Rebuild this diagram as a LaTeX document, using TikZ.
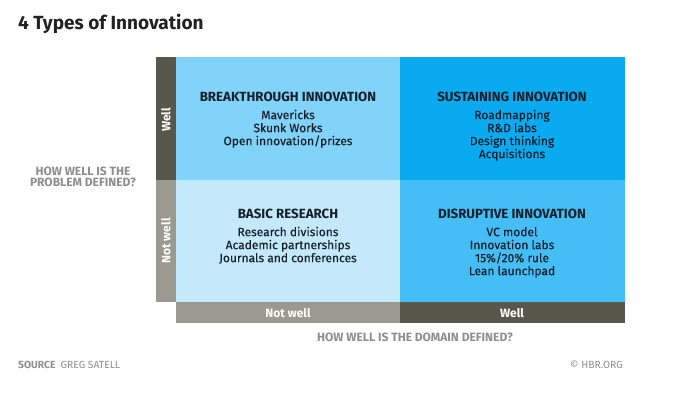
\documentclass[tikz,border=0pt]{standalone}
\usepackage{fontspec}
\setmainfont{Fira Sans}
\newfontfamily\itemfont{Fira Sans}[FakeBold=0.35]
\definecolor{qTL}{HTML}{82D3F9}
\definecolor{qTR}{HTML}{0AAAF0}
\definecolor{qBL}{HTML}{C4E9FB}
\definecolor{qBR}{HTML}{45BDF5}
\definecolor{barDark}{HTML}{58574B}
\definecolor{barGrey}{HTML}{9A9A90}
\definecolor{axisText}{HTML}{8E8E8E}
\definecolor{qText}{HTML}{16202C}
\definecolor{titleText}{HTML}{222222}
\newcommand{\qheadfont}{\normalfont\bfseries\fontsize{13.3}{13}\selectfont}
\begin{document}
\begin{tikzpicture}[x=1pt,y=-1pt,
  qtext/.style={align=center,anchor=north,text=qText,font=\itemfont\fontsize{12}{13}\selectfont,inner sep=0pt},
  barlabel/.style={text=white,font=\bfseries\fontsize{12}{13}\selectfont,inner sep=0pt},
  axislabel/.style={text=axisText,font=\bfseries\fontsize{12}{11.5}\selectfont,align=center,inner sep=0pt},
  foot/.style={text=axisText,font=\fontsize{10.3}{11}\selectfont,inner sep=0pt}]
\useasboundingbox (0,0) rectangle (675,393);
% quadrants
\fill[qTL] (176,57) rectangle (400,180);
\fill[qTR] (400,57) rectangle (625,180);
\fill[qBL] (176,180) rectangle (400,302);
\fill[qBR] (400,180) rectangle (625,302);
% bars
\fill[barDark] (156,57) rectangle (176,180);
\fill[barGrey] (156,180) rectangle (176,302);
\fill[barGrey] (176,302) rectangle (400,323);
\fill[barDark] (400,302) rectangle (625,323);
% title
\node[anchor=base west,inner sep=0pt,text=titleText,font=\bfseries\fontsize{19}{20}\selectfont] (title) at (18,30) {4 Types of Innovation};
% bar labels
\node[barlabel,rotate=90] (lwell) at (166,120) {Well};
\node[barlabel,rotate=90] (lnot) at (166,241) {Not well};
\node[barlabel] (bnot) at (288,313) {Not well};
\node[barlabel] (bwell) at (512,313) {Well};
% quadrant texts
\node[qtext] (tl) at (288,91.5) {{\qheadfont BREAKTHROUGH INNOVATION}\\[5pt]Mavericks\\Skunk Works\\Open innovation/prizes};
\node[qtext] (tr) at (512,91.5) {{\qheadfont SUSTAINING INNOVATION}\\[5pt]Roadmapping\\R\&D labs\\Design thinking\\Acquisitions};
\node[qtext] (bl) at (288,208.5) {{\qheadfont BASIC RESEARCH}\\[5pt]Research divisions\\Academic partnerships\\Journals and conferences};
\node[qtext] (br) at (512,208.5) {{\qheadfont DISRUPTIVE INNOVATION}\\[5pt]VC model\\Innovation labs\\15\%/20\% rule\\Lean launchpad};
% axis labels
\node[axislabel] (yaxis) at (83,177) {HOW WELL IS THE\\PROBLEM DEFINED?};
\node[axislabel] (xaxis) at (415,337) {HOW WELL IS THE DOMAIN DEFINED?};
% footer
\node[foot,anchor=base west] (src) at (18,368) {{\bfseries SOURCE}\enspace GREG SATELL};
\node[foot,anchor=base east] (hbr) at (623,368) {© HBR.ORG};
\end{tikzpicture}
\end{document}
